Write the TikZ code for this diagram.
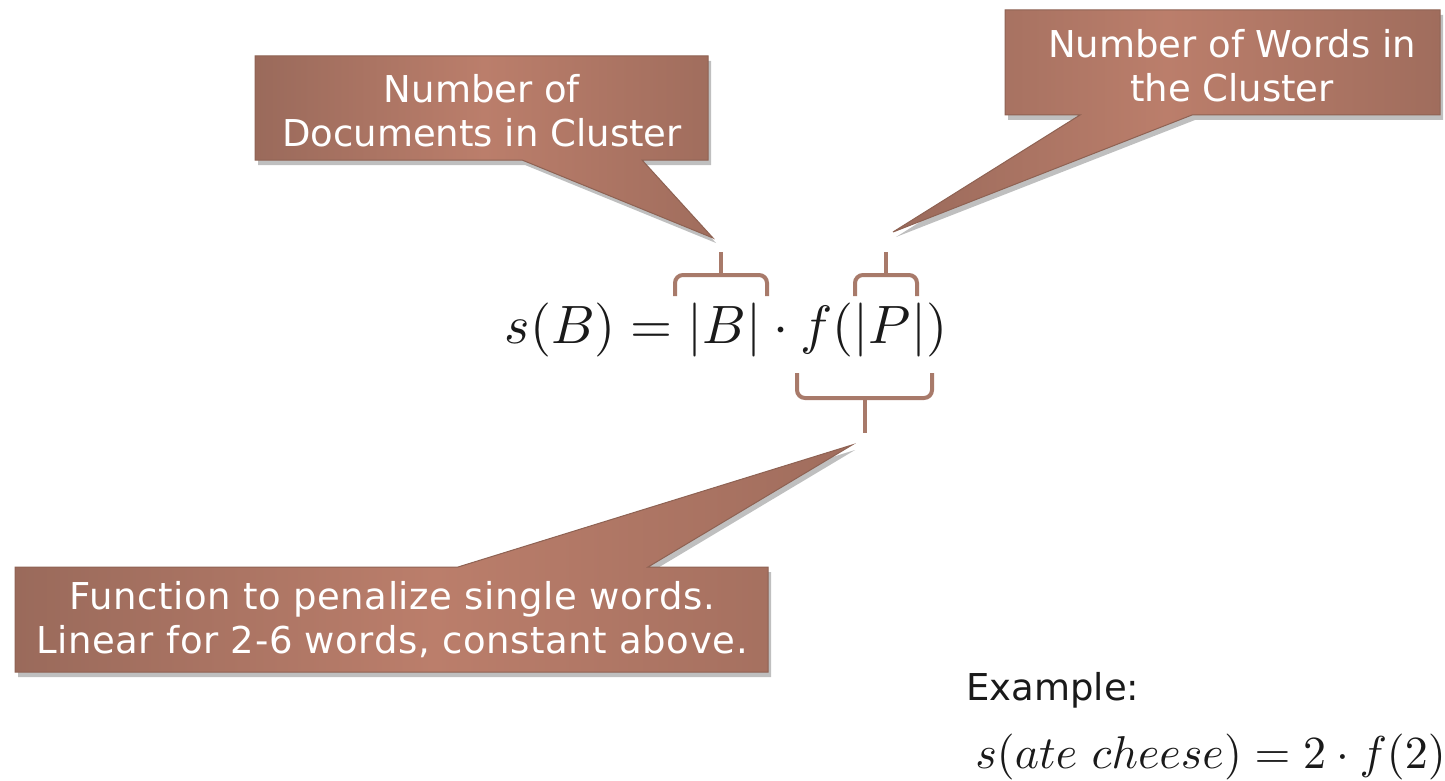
\documentclass[tikz,border=0pt]{standalone}
\usepackage{graphicx}
\usepackage{fontspec}
\setmainfont{DejaVu Sans}
\usetikzlibrary{shadows}
\definecolor{cdark}{HTML}{9A6A5B}
\definecolor{cdark2}{HTML}{A06D5D}
\definecolor{clight}{HTML}{BB7E6B}
\definecolor{cedge}{HTML}{8E6253}
\definecolor{bracecol}{HTML}{A87A6A}
\definecolor{txtdark}{HTML}{1A1A1A}
\tikzset{
  callout/.style={left color=cdark, right color=cdark2, middle color=clight,
    draw=cedge, line width=0.5pt, line join=miter,
    drop shadow={opacity=0.25, shadow xshift=1.5pt, shadow yshift=-2.5pt, fill=black}},
  ctext/.style={text=white, align=center, font=\fontsize{18.5}{22}\selectfont, inner sep=0pt},
  bracket/.style={draw=bracecol, line width=2pt, rounded corners=4pt, line cap=butt},
  mathtext/.style={text=txtdark, inner sep=0pt},
}
\begin{document}
\begin{tikzpicture}[x=0.5pt, y=-0.5pt]
\useasboundingbox[fill=white] (0,0) rectangle (1445,781);

% pointer tips
\coordinate (tipA) at (713,238);
\coordinate (tipB) at (893,232);
\coordinate (tipC) at (852,445);

% callout 1
\path[callout] (255,56) -- (708,56) -- (708,160) -- (642,160) -- (tipA) -- (522,160) -- (255,160) -- cycle;
\node[ctext] (docs) at (482,111) {Number of\\Documents in Cluster};

% callout 2
\path[callout] (1005,10) -- (1440,10) -- (1440,115) -- (1192,115) -- (tipB) -- (1080,115) -- (1005,115) -- cycle;
\node[ctext] (words) at (1232,66) {Number of Words in\\the Cluster};

% callout 3
\path[callout] (15,567) -- (458,567) -- (tipC) -- (648,567) -- (768,567) -- (768,672) -- (15,672) -- cycle;
\node[ctext] (func) at (392,620) {\addfontfeatures{LetterSpace=1.6}Function to penalize single words.\\\addfontfeatures{LetterSpace=1.6}Linear for 2-6 words, constant above.};

% formula
\node[mathtext] (eq) at (726,330) {\scalebox{2.7}{$s(B) = |B|\cdot f(|P|)$}};

% brackets
\draw[bracket] (675,296) -- (675,275) -- (767,275) -- (767,296);
\draw[bracket] (721,275) -- (721,252);
\draw[bracket] (855,296) -- (855,275) -- (917,275) -- (917,296);
\draw[bracket] (886,275) -- (886,252);
\draw[bracket] (797,373) -- (797,398) -- (932,398) -- (932,373);
\draw[bracket] (865,398) -- (865,433);

% example
\node[mathtext, anchor=west, font=\fontsize{18.5}{22}\selectfont] (ex) at (966,690) {Example:};
\node[mathtext, anchor=west] (exf) at (975,757) {\scalebox{2.3}{$s(ate\ cheese) = 2\cdot f(2)$}};
\end{tikzpicture}
\end{document}
